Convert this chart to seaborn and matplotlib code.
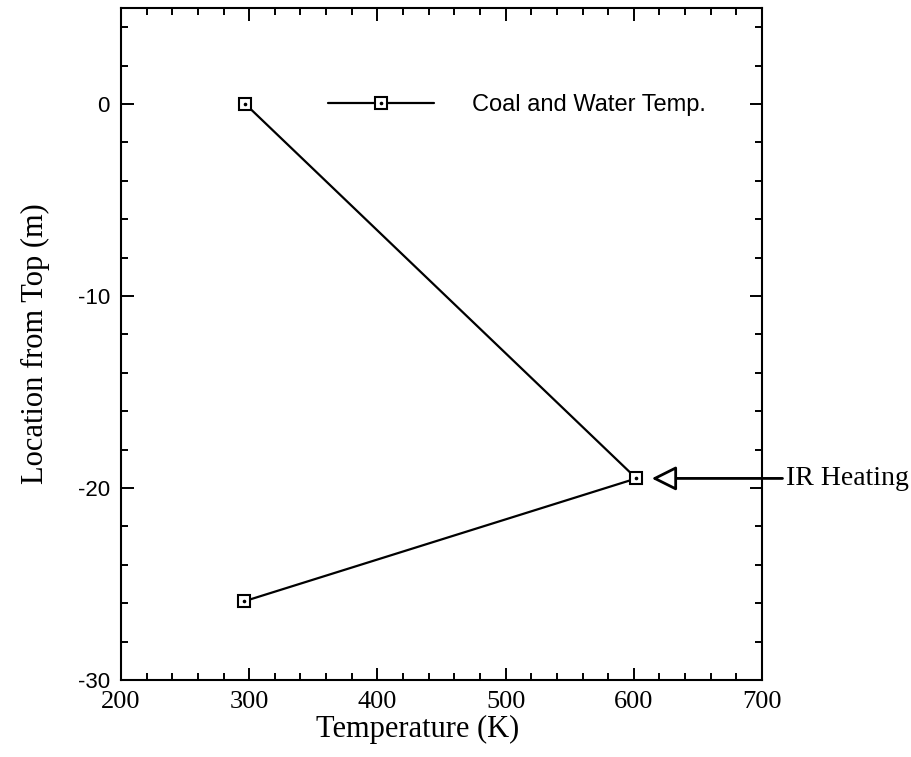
import matplotlib
matplotlib.use("Agg")
import matplotlib.pyplot as plt
from matplotlib.lines import Line2D
from matplotlib.legend_handler import HandlerTuple
import seaborn as sns
import pandas as pd

# Data
temperature = [297, 602, 296]
location = [0.0, -19.5, -25.9]
series_label = "Coal and Water Temp."
x_ticks = [200, 300, 400, 500, 600, 700]
y_ticks = [0, -10, -20, -30]
annot_text = "IR Heating"
annot_y = -19.5

df = pd.DataFrame({"Temperature (K)": temperature, "Location from Top (m)": location})

sns.set_style("ticks")
plt.rcParams["font.family"] = ["Liberation Serif", "DejaVu Serif"]
plt.rcParams["axes.unicode_minus"] = False
plt.rcParams["text.color"] = "black"
plt.rcParams["axes.labelcolor"] = "black"
plt.rcParams["xtick.labelcolor"] = "black"
plt.rcParams["ytick.labelcolor"] = "black"

fig = plt.figure(figsize=(9.12, 7.57), dpi=100)
ax = fig.add_axes([0.1327, 0.1017, 0.7028, 0.8877])

sns.lineplot(data=df, x="Temperature (K)", y="Location from Top (m)", sort=False,
             estimator=None, ax=ax, color="black", linewidth=1.6,
             marker="s", markersize=9, markerfacecolor="white",
             markeredgecolor="black", markeredgewidth=1.5, legend=False)
ax.plot(temperature, location, linestyle="none", marker="o", markersize=1.6,
        color="black", zorder=5)

ax.set_xlim(200, 700)
ax.set_ylim(-30, 5)
ax.set_xticks(x_ticks)
ax.set_xticks(range(200, 701, 20), minor=True)
ax.set_yticks(y_ticks)
ax.set_yticks(range(-30, 5, 2), minor=True)

ax.tick_params(axis="both", which="both", direction="in", top=True, right=True,
               color="black")
ax.tick_params(which="major", length=9, width=1.4)
ax.tick_params(which="minor", length=5, width=1.4)
ax.tick_params(axis="x", which="major", labelsize=19, pad=8)
ax.tick_params(axis="y", which="major", labelsize=16, pad=8)
for lab in ax.get_yticklabels():
    lab.set_fontfamily(["Liberation Sans", "DejaVu Sans"])
for lab in ax.get_xticklabels():
    lab.set_fontfamily(["Liberation Serif", "DejaVu Serif"])

for sp in ax.spines.values():
    sp.set_linewidth(1.5)
    sp.set_color("black")
    sp.set_visible(True)

ax.set_xlabel("Temperature (K)", fontsize=22)
ax.xaxis.set_label_coords(0.463, -0.052)
ax.set_ylabel("Location from Top (m)", fontsize=22, labelpad=20)

# Legend
h_line = Line2D([], [], color="black", linewidth=1.6, marker="s", markersize=9,
                markerfacecolor="white", markeredgecolor="black", markeredgewidth=1.5)
h_dot = Line2D([], [], linestyle="none", marker="o", markersize=1.6, color="black")
leg = ax.legend([(h_line, h_dot)], [series_label],
                handler_map={tuple: HandlerTuple(ndivide=1, pad=0)},
                loc="center left", bbox_to_anchor=(328 / 912, 1 - 105 / 757),
                bbox_transform=fig.transFigure, frameon=False, borderpad=0,
                borderaxespad=0, handlelength=4.5, handletextpad=1.6,
                prop={"family": ["Liberation Sans", "DejaVu Sans"], "size": 17})

# IR Heating annotation
ax.annotate("", xy=(614, annot_y), xytext=(716, annot_y), xycoords="data",
            textcoords="data", annotation_clip=False,
            arrowprops=dict(arrowstyle="-|>,head_length=1.5,head_width=0.75",
                            facecolor="white", edgecolor="black", linewidth=2.0,
                            shrinkA=0, shrinkB=0))
ax.text(719, annot_y, annot_text, ha="left", va="center", fontsize=20,
        clip_on=False)

fig.savefig("out.png", dpi=100)
